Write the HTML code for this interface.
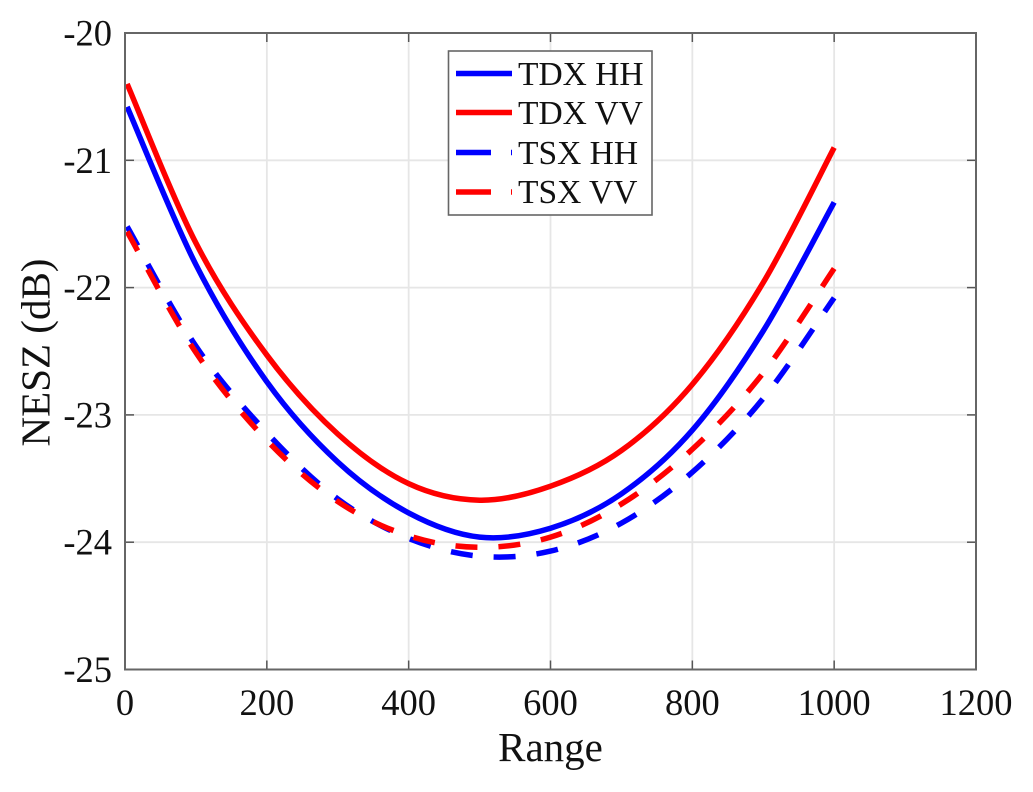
<!DOCTYPE html>
<html>
<head>
<meta charset="utf-8">
<title>NESZ vs Range</title>
<style>
html,body{margin:0;padding:0;background:#fff;}
svg{display:block;font-family:"Liberation Serif",serif;fill:#111;}
</style>
</head>
<body>
<svg id="chart" xmlns="http://www.w3.org/2000/svg" width="1033" height="792" viewBox="0 0 1033 792">
<rect x="0" y="0" width="1033" height="792" fill="#fff"/>
<g id="grid"></g>
<g id="series"></g>
<g id="frame"></g>
<g id="labels" font-size="36.5"></g>
<text x="550.5" y="761" font-size="41" text-anchor="middle">Range</text>
<text transform="translate(49.5 352.5) rotate(-90)" font-size="41" text-anchor="middle">NESZ (dB)</text>
<g>
<rect x="448.5" y="51" width="203.5" height="164" fill="#fff" stroke="#666" stroke-width="1.6"/>
<line x1="456" x2="512" y1="73.5" y2="73.5" stroke="#0000ff" stroke-width="5.5"/>
<line x1="456" x2="512" y1="112.5" y2="112.5" stroke="#ff0000" stroke-width="5.5"/>
<line x1="456" x2="512" y1="152.5" y2="152.5" stroke="#0000ff" stroke-width="5.5" stroke-dasharray="35 20"/>
<line x1="456" x2="512" y1="192" y2="192" stroke="#ff0000" stroke-width="5.5" stroke-dasharray="35 20"/>
<text x="518" y="85" font-size="33.5">TDX HH</text>
<text x="518" y="124" font-size="33.5">TDX VV</text>
<text x="518" y="164" font-size="33.5">TSX HH</text>
<text x="518" y="203" font-size="33.5">TSX VV</text>
</g>
</svg>
<script>
const xTicks = [0, 200, 400, 600, 800, 1000, 1200];
const yTicks = [-20, -21, -22, -23, -24, -25];
const ranges = [3, 100, 200, 300, 400, 500, 600, 700, 800, 900, 1000];
const tdxHH = [-20.58, -21.82, -22.74, -23.37, -23.77, -23.96, -23.89, -23.62, -23.12, -22.34, -21.33];
const tdxVV = [-20.4, -21.65, -22.53, -23.15, -23.54, -23.67, -23.56, -23.28, -22.76, -21.96, -20.9];
const tsxHH = [-21.52, -22.46, -23.14, -23.66, -23.97, -24.11, -24.07, -23.85, -23.45, -22.87, -22.08];
const tsxVV = [-21.56, -22.51, -23.2, -23.68, -23.95, -24.04, -23.96, -23.7, -23.27, -22.67, -21.85];

const NS = 'http://www.w3.org/2000/svg';
const L = 125, R = 976, T = 33, B = 669.5;
function sx(v) { return L + (v - 0) / 1200 * (R - L); }
function sy(v) { return T + (-20 - v) / 5 * (B - T); }
function mk(tag, attrs, parent) {
  const el = document.createElementNS(NS, tag);
  Object.keys(attrs).forEach(function (k) { el.setAttribute(k, attrs[k]); });
  parent.appendChild(el);
  return el;
}
const grid = document.getElementById('grid');
const frame = document.getElementById('frame');
const labels = document.getElementById('labels');
const seriesG = document.getElementById('series');

xTicks.forEach(function (t) {
  const x = sx(t);
  if (t > 0 && t < 1200) {
    const g = mk('line', {x1: x, x2: x, y1: T, y2: B, stroke: '#e6e6e6', 'stroke-width': 1.8}, grid);
    
    
    const a = mk('line', {x1: x, x2: x, y1: B, y2: B - 9, stroke: '#555', 'stroke-width': 1.5}, frame);
    
    
    const b = mk('line', {x1: x, x2: x, y1: T, y2: T + 9, stroke: '#555', 'stroke-width': 1.5}, frame);
    
    
  }
  const lab = mk('text', {x: x, y: 715, 'text-anchor': 'middle'}, labels);
  
  
  lab.textContent = String(t);
});
yTicks.forEach(function (t) {
  const y = sy(t);
  if (t > -25 && t < -20) {
    const g = mk('line', {x1: L, x2: R, y1: y, y2: y, stroke: '#e6e6e6', 'stroke-width': 1.8}, grid);
    
    
    const a = mk('line', {x1: L, x2: L + 9, y1: y, y2: y, stroke: '#555', 'stroke-width': 1.5}, frame);
    
    
    const b = mk('line', {x1: R, x2: R - 9, y1: y, y2: y, stroke: '#555', 'stroke-width': 1.5}, frame);
    
    
  }
  const lab = mk('text', {x: 112, y: y + 12.5, 'text-anchor': 'end'}, labels);
  
  
  lab.textContent = String(t);
});
const box = mk('rect', {x: L, y: T, width: R - L, height: B - T, fill: 'none', stroke: '#666', 'stroke-width': 2}, frame);



function curve(xs, ys) {
  const p = xs.map(function (v, i) { return [sx(v), sy(ys[i])]; });
  let d = 'M' + p[0][0] + ' ' + p[0][1];
  for (let i = 0; i < p.length - 1; i++) {
    const p0 = p[Math.max(0, i - 1)], p1 = p[i], p2 = p[i + 1], p3 = p[Math.min(p.length - 1, i + 2)];
    d += ' C' + (p1[0] + (p2[0] - p0[0]) / 6) + ' ' + (p1[1] + (p2[1] - p0[1]) / 6) +
         ' ' + (p2[0] - (p3[0] - p1[0]) / 6) + ' ' + (p2[1] - (p3[1] - p1[1]) / 6) +
         ' ' + p2[0] + ' ' + p2[1];
  }
  return d;
}
const lineTdxHH = mk('path', {d: curve(ranges, tdxHH), fill: 'none', stroke: '#0000ff', 'stroke-width': 5.5}, seriesG);


const lineTdxVV = mk('path', {d: curve(ranges, tdxVV), fill: 'none', stroke: '#ff0000', 'stroke-width': 5.5}, seriesG);


const lineTsxHH = mk('path', {d: curve(ranges, tsxHH), fill: 'none', stroke: '#0000ff', 'stroke-width': 5.5, 'stroke-dasharray': '22 21'}, seriesG);


const lineTsxVV = mk('path', {d: curve(ranges, tsxVV), fill: 'none', stroke: '#ff0000', 'stroke-width': 5.5, 'stroke-dasharray': '22 21'}, seriesG);


</script>
</body>
</html>
